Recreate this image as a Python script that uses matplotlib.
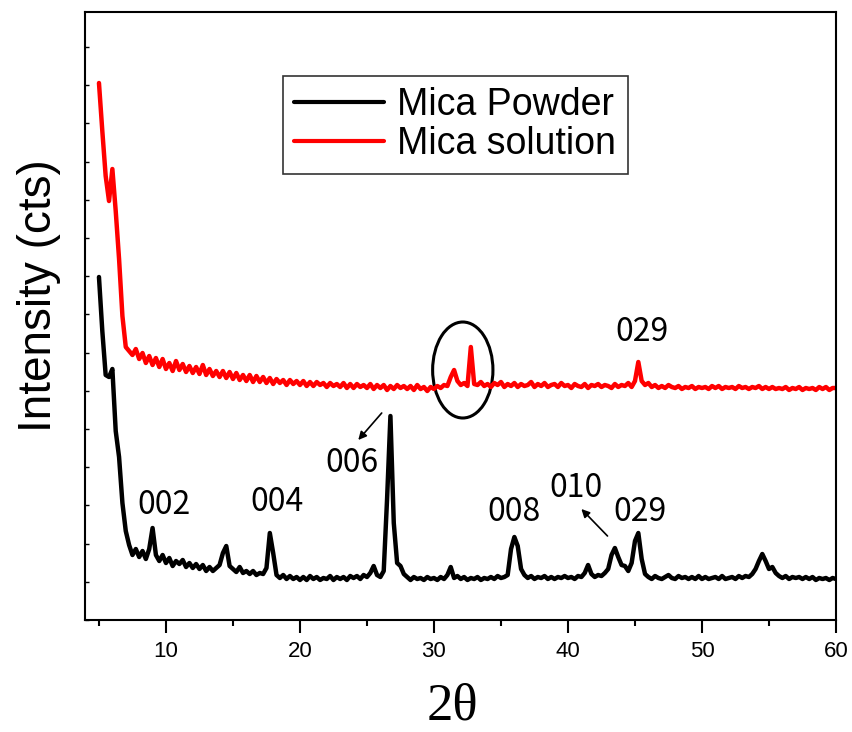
"""XRD patterns of mica powder and mica solution."""

import numpy as np
import matplotlib

matplotlib.use("Agg")
import matplotlib.pyplot as plt
from matplotlib.patches import Ellipse
from matplotlib.ticker import FixedLocator, MultipleLocator


# 2-theta sampling grid (degrees), 0.25 deg steps from 5 to 60
TWO_THETA_START = 5.0
TWO_THETA_STEP = 0.25

# intensity (arbitrary cts), one row per degree: x.00, x.25, x.50, x.75
POWDER_CTS = [
    344, 290, 246, 244,   # 5
    252, 190, 164, 118,   # 6
    90, 76, 66, 72,       # 7
    64, 70, 62, 72,       # 8
    93, 66, 60, 66,       # 9
    58, 63, 55, 60,       # 10
    57, 61, 54, 58,       # 11
    53, 57, 52, 56,       # 12
    50, 54, 50, 53,       # 13
    56, 68, 75, 55,       # 14
    52, 49, 54, 48,       # 15
    50, 47, 50, 46,       # 16
    48, 47, 53, 88,       # 17
    68, 46, 43, 46,       # 18
    42, 45, 42, 44,       # 19
    41, 44, 41, 45,       # 20
    42, 44, 41, 43,       # 21
    42, 45, 41, 44,       # 22
    42, 44, 41, 45,       # 23
    43, 45, 42, 46,       # 24
    44, 48, 55, 46,       # 25
    44, 50, 122, 205,     # 26
    98, 58, 55, 47,       # 27
    44, 41, 44, 42,       # 28
    43, 41, 44, 42,       # 29
    43, 41, 44, 42,       # 30
    46, 54, 43, 45,       # 31
    42, 44, 41, 43,       # 32
    42, 44, 41, 43,       # 33
    42, 44, 42, 45,       # 34
    43, 44, 46, 72,       # 35
    84, 75, 52, 46,       # 36
    43, 45, 42, 44,       # 37
    43, 45, 42, 44,       # 38
    42, 44, 43, 45,       # 39
    43, 44, 42, 45,       # 40
    44, 48, 56, 47,       # 41
    44, 46, 45, 48,       # 42
    52, 66, 73, 64,       # 43
    56, 55, 50, 58,       # 44
    80, 88, 62, 47,       # 45
    44, 42, 45, 43,       # 46
    42, 44, 46, 43,       # 47
    42, 45, 43, 44,       # 48
    42, 44, 42, 45,       # 49
    42, 44, 42, 43,       # 50
    44, 42, 45, 42,       # 51
    43, 44, 42, 45,       # 52
    43, 45, 44, 47,       # 53
    52, 60, 67, 60,       # 54
    52, 54, 48, 45,       # 55
    43, 45, 42, 44,       # 56
    43, 44, 42, 44,       # 57
    42, 44, 41, 43,       # 58
    42, 43, 41, 43,       # 59
    42,                   # 60
]

SOLUTION_CTS = [
    538, 490, 445, 420,   # 5
    452, 410, 362, 305,   # 6
    274, 270, 266, 272,   # 7
    262, 268, 258, 265,   # 8
    256, 263, 254, 262,   # 9
    252, 258, 250, 260,   # 10
    251, 257, 249, 255,   # 11
    248, 254, 247, 256,   # 12
    246, 252, 245, 250,   # 13
    244, 250, 243, 249,   # 14
    242, 248, 241, 246,   # 15
    240, 246, 239, 245,   # 16
    239, 244, 238, 243,   # 17
    237, 242, 238, 241,   # 18
    236, 241, 237, 240,   # 19
    236, 240, 235, 239,   # 20
    235, 239, 236, 238,   # 21
    234, 238, 235, 237,   # 22
    234, 238, 233, 237,   # 23
    233, 237, 234, 236,   # 24
    233, 237, 232, 236,   # 25
    233, 236, 231, 235,   # 26
    232, 236, 233, 235,   # 27
    232, 235, 231, 236,   # 28
    232, 234, 230, 234,   # 29
    232, 235, 233, 236,   # 30
    235, 244, 251, 240,   # 31
    236, 238, 235, 274,   # 32
    237, 236, 239, 235,   # 33
    237, 234, 238, 236,   # 34
    239, 234, 237, 235,   # 35
    238, 234, 237, 235,   # 36
    236, 239, 234, 237,   # 37
    235, 238, 234, 236,   # 38
    237, 234, 238, 235,   # 39
    236, 233, 237, 235,   # 40
    234, 237, 233, 236,   # 41
    235, 237, 234, 236,   # 42
    235, 233, 237, 234,   # 43
    236, 235, 238, 234,   # 44
    240, 259, 240, 236,   # 45
    238, 234, 236, 233,   # 46
    235, 233, 236, 234,   # 47
    233, 235, 232, 234,   # 48
    233, 235, 232, 234,   # 49
    233, 234, 232, 235,   # 50
    233, 235, 232, 234,   # 51
    233, 234, 232, 235,   # 52
    233, 234, 232, 234,   # 53
    233, 235, 232, 234,   # 54
    232, 234, 232, 233,   # 55
    232, 234, 231, 233,   # 56
    232, 234, 231, 233,   # 57
    232, 233, 231, 234,   # 58
    232, 234, 231, 233,   # 59
    233,                  # 60
]

SERIES_LABELS = ["Mica Powder", "Mica solution"]
SERIES_COLORS = ["black", "red"]

# peak labels: (text, 2theta, cts)
PEAK_LABELS = [
    ("002", 9.85, 116),
    ("004", 18.25, 119),
    ("006", 23.85, 158),
    ("008", 36.0, 109),
    ("010", 40.6, 133),
    ("029", 45.4, 109),
    ("029", 45.55, 289),
]
# arrows: ((2theta, cts) tail, (2theta, cts) head)
PEAK_ARROWS = [
    ((26.1, 208), (24.35, 181)),
    ((42.95, 85), (41.0, 112)),
]
# circled region on the solution pattern: centre, width, height
CIRCLE_CENTER = (32.15, 251)
CIRCLE_SIZE = (4.5, 96)


def main() -> None:
    two_theta = TWO_THETA_START + TWO_THETA_STEP * np.arange(len(POWDER_CTS))

    fig = plt.figure(figsize=(8.52, 7.32), dpi=100)
    ax = fig.add_axes([0.0998, 0.153, 0.8814, 0.8306])

    for cts, label, color in zip([POWDER_CTS, SOLUTION_CTS], SERIES_LABELS, SERIES_COLORS):
        ax.plot(two_theta, cts, color=color, lw=3.2, label=label,
                solid_joinstyle="round", solid_capstyle="round")

    ax.set_xlim(3.96, 60)
    ax.set_ylim(1, 609)

    ax.xaxis.set_major_locator(MultipleLocator(10))
    ax.xaxis.set_minor_locator(MultipleLocator(5))
    ax.yaxis.set_major_locator(FixedLocator(np.arange(1, 609, 38.2)))
    ax.set_yticklabels([])
    ax.tick_params(axis="x", which="major", direction="out", length=9, width=1.5,
                   labelsize=16, pad=6)
    ax.tick_params(axis="x", which="minor", direction="out", length=4, width=1.5)
    ax.tick_params(axis="y", which="major", direction="in", length=3, width=1)
    for tick in ax.get_xticklabels():
        tick.set_fontfamily("Liberation Sans")
    for spine in ax.spines.values():
        spine.set_linewidth(1.5)

    ax.set_ylabel("Intensity (cts)", fontsize=33, fontfamily="Liberation Sans")
    ax.yaxis.set_label_coords(-0.032, 0.533)
    ax.set_xlabel("2θ", fontsize=38, fontfamily="Liberation Serif")
    ax.xaxis.set_label_coords(0.489, -0.102)
    ax.xaxis.label.set_va("top")

    for text, x, y in PEAK_LABELS:
        ax.text(x, y, text, fontsize=23, ha="center", va="center",
                family=["Noto Sans CJK SC", "DejaVu Sans"])
    for tail, head in PEAK_ARROWS:
        ax.annotate("", xy=head, xytext=tail,
                    arrowprops=dict(arrowstyle="-|>", color="black", lw=1.2,
                                    mutation_scale=12, shrinkA=0, shrinkB=0))

    ax.add_patch(Ellipse(CIRCLE_CENTER, CIRCLE_SIZE[0], CIRCLE_SIZE[1],
                         fill=False, edgecolor="black", lw=2.2))

    leg = ax.legend(loc="upper left", bbox_to_anchor=(0.2637, 0.8947),
                    prop={"family": "Liberation Sans", "size": 27},
                    frameon=True, fancybox=False, edgecolor="black",
                    handlelength=2.4, handletextpad=0.35, labelspacing=0.08,
                    borderpad=0.3, borderaxespad=0)
    leg.get_frame().set_linewidth(1.2)
    for line in leg.get_lines():
        line.set_linewidth(3)

    fig.savefig("out.png", dpi=100)
    plt.close(fig)


if __name__ == "__main__":
    main()
